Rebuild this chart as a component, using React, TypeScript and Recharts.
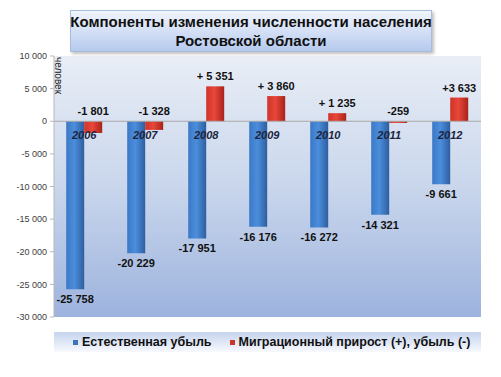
import React from 'react';
import { ComposedChart, Bar, XAxis, YAxis, ReferenceLine, ReferenceArea, LabelList } from 'recharts';

const years = ['2006', '2007', '2008', '2009', '2010', '2011', '2012'];
const naturalDecline = [-25758, -20229, -17951, -16176, -16272, -14321, -9661];
const migration = [-1801, -1328, 5351, 3860, 1235, -259, 3633];
const naturalLabels = ['-25 758', '-20 229', '-17 951', '-16 176', '-16 272', '-14 321', '-9 661'];
const migrationLabels = ['-1 801', '-1 328', '+ 5 351', '+ 3 860', '+ 1 235', '-259', '+3 633'];
const yTicks = [10000, 5000, 0, -5000, -10000, -15000, -20000, -25000, -30000];
const seriesNames = ['Естественная убыль', 'Миграционный прирост (+), убыль (-)'];
const titleLines = ['Компоненты изменения численности населения', 'Ростовской области'];
const axisTitle = 'человек';

const data = years.map((year, i) => ({
  year,
  natural: naturalDecline[i],
  migration: migration[i],
  naturalLabel: naturalLabels[i],
  migrationLabel: migrationLabels[i],
}));

const FONT = '"Liberation Sans", Arial, sans-serif';

const fmt = (v: number) => {
  const s = Math.abs(v).toString().replace(/\B(?=(\d{3})+(?!\d))/g, ' ');
  return (v < 0 ? '-' : '') + s;
};

const bounds = (y: number, h: number) => ({ top: Math.min(y, y + h), bottom: Math.max(y, y + h) });

const NaturalLabel = (props: any) => {
  const { x, y, width, height, value } = props;
  const { bottom } = bounds(Number(y), Number(height));
  return (
    <text x={Number(x) + Number(width) / 2} y={bottom + 14} textAnchor="middle" fontFamily={FONT} fontWeight="bold" fontSize={11} fill="#111">
      {value}
    </text>
  );
};

const MigrationLabel = (props: any) => {
  const { x, y, width, height, value } = props;
  const { top } = bounds(Number(y), Number(height));
  return (
    <text x={Number(x) + Number(width) / 2} y={top - 6} textAnchor="middle" fontFamily={FONT} fontWeight="bold" fontSize={11} fill="#111">
      {value}
    </text>
  );
};

const YearLabel = (props: any) => {
  const { x, y, height, value, index } = props;
  const v = migration[index];
  const { top, bottom } = bounds(Number(y), Number(height));
  const zero = v >= 0 ? bottom : top;
  return (
    <text x={Number(x)} y={zero + 18} textAnchor="middle" fontFamily={FONT} fontWeight="bold" fontStyle="italic" fontSize={11} fill="#1c2540">
      {value}
    </text>
  );
};

export default function App() {
  return (
    <div style={{ position: 'absolute', left: 0, top: 0, width: 501, height: 377, background: '#fff', fontFamily: FONT }}>
      <ComposedChart
        width={501}
        height={377}
        data={data}
        margin={{ top: 56, right: 20, bottom: 60, left: 0 }}
        barCategoryGap="20%"
        barGap={0}
      >
        <defs>
          <linearGradient id="plotBg" x1="0" y1="0" x2="0" y2="1">
            <stop offset="0" stopColor="#e9eef6" />
            <stop offset="0.5" stopColor="#c9d6ec" />
            <stop offset="1" stopColor="#9db3de" />
          </linearGradient>
          <linearGradient id="blueBar" x1="0" y1="0" x2="1" y2="0">
            <stop offset="0" stopColor="#3c78c6" />
            <stop offset="0.45" stopColor="#4b8edc" />
            <stop offset="1" stopColor="#2e5e9f" />
          </linearGradient>
          <linearGradient id="redBar" x1="0" y1="0" x2="1" y2="0">
            <stop offset="0" stopColor="#cf3328" />
            <stop offset="0.45" stopColor="#e8473a" />
            <stop offset="1" stopColor="#a82219" />
          </linearGradient>
        </defs>
        <ReferenceArea y1={-30000} y2={10000} fill="url(#plotBg)" fillOpacity={1} stroke="none" />
        <XAxis dataKey="year" hide />
        <YAxis
          width={54}
          domain={[-30000, 10000]}
          ticks={yTicks}
          interval={0}
          tickFormatter={fmt}
          tick={{ fontSize: 9, fill: '#404040', fontFamily: FONT }}
          tickSize={4}
          tickMargin={3}
          axisLine={{ stroke: '#b8b8b8' }}
          tickLine={{ stroke: '#b8b8b8' }}
        />
        <ReferenceLine y={0} stroke="#a8a8a8" strokeWidth={1} />
        <Bar dataKey="natural" name={seriesNames[0]} fill="url(#blueBar)" isAnimationActive={false}>
          <LabelList dataKey="naturalLabel" content={NaturalLabel} />
        </Bar>
        <Bar dataKey="migration" name={seriesNames[1]} fill="url(#redBar)" isAnimationActive={false}>
          <LabelList dataKey="migrationLabel" content={MigrationLabel} />
          <LabelList dataKey="year" content={YearLabel} />
        </Bar>
      </ComposedChart>

      <div
        style={{
          position: 'absolute',
          left: 52,
          top: 56,
          width: 14,
          height: 38,
          display: 'flex',
          alignItems: 'center',
          justifyContent: 'center',
        }}
      >
        <div style={{ transform: 'rotate(90deg)', fontSize: 10, color: '#222', whiteSpace: 'nowrap' }}>{axisTitle}</div>
      </div>

      <div
        style={{
          position: 'absolute',
          left: 70,
          top: 10,
          width: 362,
          height: 42,
          boxSizing: 'border-box',
          background: 'linear-gradient(to bottom, #f1f5fc, #b6caee)',
          border: '1px solid #a9bcdd',
          boxShadow: '2px 2px 3px rgba(0,0,0,0.25)',
          display: 'flex',
          flexDirection: 'column',
          alignItems: 'center',
          justifyContent: 'center',
          fontWeight: 'bold',
          fontSize: 15,
          lineHeight: '19px',
          color: '#111',
          whiteSpace: 'nowrap',
        }}
      >
        {titleLines.map((t) => (
          <div key={t}>{t}</div>
        ))}
      </div>

      <div
        style={{
          position: 'absolute',
          left: 54,
          top: 332,
          width: 427,
          height: 20,
          background: 'linear-gradient(to bottom, #c6d4ee, #f7f9fd)',
          display: 'flex',
          alignItems: 'center',
          fontWeight: 'bold',
          fontSize: 12.5,
          color: '#111',
        }}
      >
        <div style={{ display: 'flex', alignItems: 'center', marginLeft: 19 }}>
          <span style={{ display: 'inline-block', width: 5, height: 5, background: '#3c74b8', marginRight: 4 }} />
          <span>{seriesNames[0]}</span>
        </div>
        <div style={{ display: 'flex', alignItems: 'center', marginLeft: 18 }}>
          <span style={{ display: 'inline-block', width: 5, height: 5, background: '#c9372c', marginRight: 4 }} />
          <span>{seriesNames[1]}</span>
        </div>
      </div>
    </div>
  );
}
